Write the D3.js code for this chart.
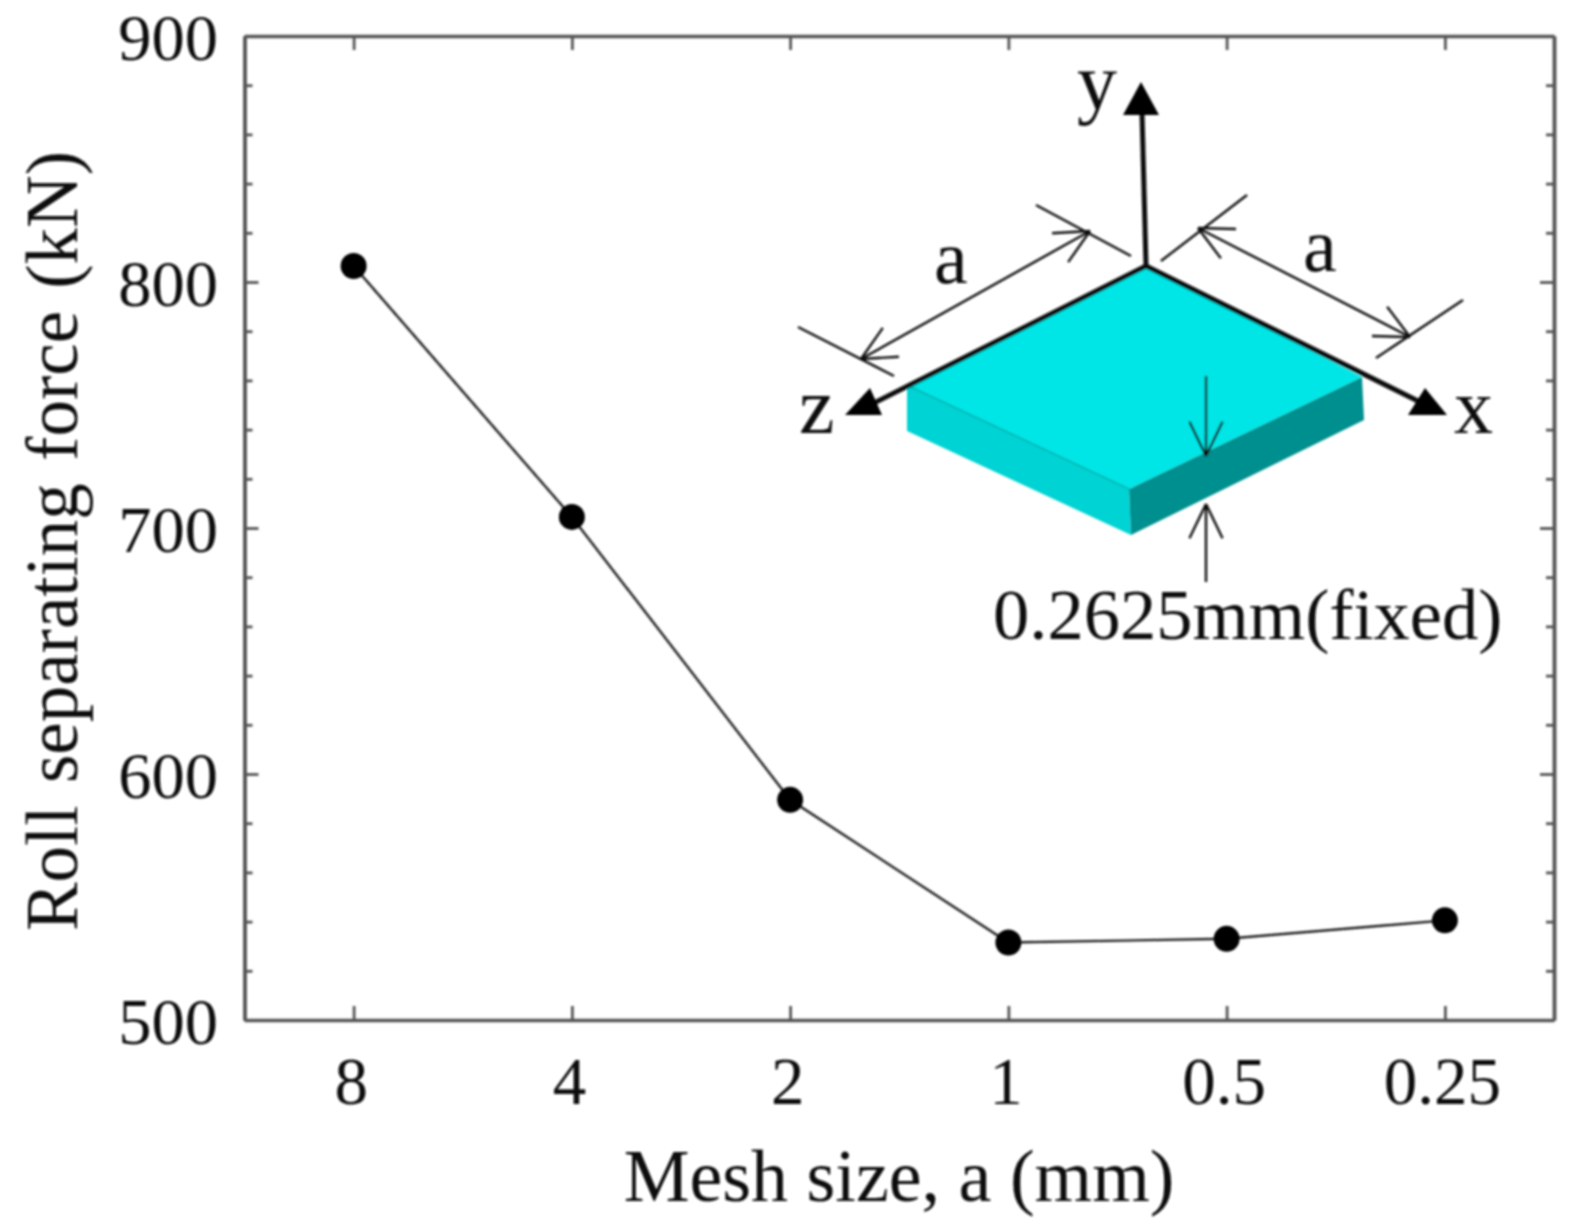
<!DOCTYPE html>
<html>
<head>
<meta charset="utf-8">
<script src="https://cdn.jsdelivr.net/npm/d3@7"></script>
<style>
  html, body { margin: 0; background: #fff; }
  text { font-family: "Liberation Serif", serif; fill: #111; }
</style>
</head>
<body>
<div id="chart"></div>
<script>
// Data
const meshSizes = ['8', '4', '2', '1', '0.5', '0.25']
const rollForce = [806.5, 704.5, 589.5, 531.5, 533, 540.5]
const majorTicks = [500, 600, 700, 800, 900]
const minorTicks = [520, 540, 560, 580, 620, 640, 660, 680, 720, 740, 760, 780, 820, 840, 860, 880]

function draw() {
  // Dimensions
  const dimensions = { width: 1571, height: 1230, left: 244.5, right: 1554, top: 36, bottom: 1020 }

  const svg = d3.select('#chart')
    .append('svg')
    .attr('width', dimensions.width)
    .attr('height', dimensions.height)
    .style('display', 'block')

  // the source is a soft, resampled scan
  svg.append('filter').attr('id', 'soft')
    .append('feGaussianBlur').attr('stdDeviation', 0.8)

  const root = svg.append('g').attr('filter', 'url(#soft)')

  // Scales
  const xScale = d3.scalePoint()
    .domain(meshSizes)
    .range([dimensions.left, dimensions.right])
    .padding(0.5)

  const yScale = d3.scaleLinear()
    .domain([500, 900])
    .range([dimensions.bottom, dimensions.top])

  // Axes
  const axisColor = '#555'
  const styleAxis = g => {
    g.select('.domain').attr('stroke', axisColor).attr('stroke-width', 3.5)
    g.selectAll('.tick line').attr('stroke', axisColor).attr('stroke-width', 2.8)
  }
  const noLabels = axis => axis.tickFormat('').tickSizeOuter(0)

  root.append('g')
    .attr('transform', `translate(0, ${dimensions.bottom})`)
    .call(noLabels(d3.axisTop(xScale).tickSize(14)))
    .call(styleAxis)

  root.append('g')
    .attr('transform', `translate(0, ${dimensions.top})`)
    .call(noLabels(d3.axisBottom(xScale).tickSize(14)))
    .call(styleAxis)

  const yAxes = [
    { x: dimensions.left, make: d3.axisRight },
    { x: dimensions.right, make: d3.axisLeft },
  ]
  yAxes.forEach(side => {
    const at = root.append('g').attr('transform', `translate(${side.x}, 0)`)
    at.append('g')
      .call(noLabels(side.make(yScale).tickValues(majorTicks).tickSize(14)))
      .call(styleAxis)
    at.append('g')
      .call(noLabels(side.make(yScale).tickValues(minorTicks).tickSize(8)))
      .call(styleAxis)
  })

  // Tick labels
  root.append('g')
    .selectAll('text')
    .data(majorTicks)
    .join('text')
    .attr('x', 218)
    .attr('y', d => yScale(d) + 24)
    .attr('text-anchor', 'end')
    .attr('font-size', 66.5)
    .text(d => d)

  root.append('g')
    .selectAll('text')
    .data(meshSizes)
    .join('text')
    .attr('x', d => xScale(d) - 2.5)
    .attr('y', 1104)
    .attr('text-anchor', 'middle')
    .attr('font-size', 67)
    .text(d => d)

  // Axis titles
  root.append('text')
    .attr('x', 899)
    .attr('y', 1201)
    .attr('text-anchor', 'middle')
    .attr('font-size', 74)
    .text('Mesh size, a (mm)')

  root.append('text')
    .attr('transform', 'translate(77, 541) rotate(-90)')
    .attr('text-anchor', 'middle')
    .attr('font-size', 73)
    .attr('word-spacing', 4)
    .text('Roll separating force (kN)')

  // Line and points
  const line = d3.line()
    .x((d, i) => xScale(meshSizes[i]))
    .y(d => yScale(d))

  root.append('path')
    .attr('d', line(rollForce))
    .attr('fill', 'none')
    .attr('stroke', '#222')
    .attr('stroke-width', 2.4)

  root.append('g')
    .selectAll('circle')
    .data(rollForce)
    .join('circle')
    .attr('cx', (d, i) => xScale(meshSizes[i]))
    .attr('cy', d => yScale(d))
    .attr('r', 13)
    .attr('fill', '#000')

  // Inset schematic of the mesh element
  const inset = root.append('g')
  const poly = (pts, fill) => inset.append('polygon').attr('points', pts.join(' ')).attr('fill', fill)
  const seg = (x1, y1, x2, y2, width) => inset.append('line')
    .attr('x1', x1).attr('y1', y1).attr('x2', x2).attr('y2', y2)
    .attr('stroke', '#111').attr('stroke-width', width)

  poly([[907, 385], [1129, 489], [1131, 535], [907, 431]], '#00d3d3')
  poly([[1129, 489], [1362, 377], [1364, 420], [1131, 535]], '#008f8f')
  poly([[1146, 266], [1362, 377], [1129, 489], [907, 385]], '#00e5e5')
  seg(907, 385, 1129, 489, 1.2).attr('stroke', '#00a0a0')

  // axes of the element
  seg(1146, 266, 1142, 112, 5)
  seg(1146, 266, 872, 404, 5)
  seg(1146, 266, 1424, 404, 5)
  poly([[1141, 82], [1123, 115], [1159, 115]], '#000')
  poly([[870, 388], [845, 415], [882, 415]], '#000')
  poly([[1425, 388], [1408, 415], [1447, 415]], '#000')

  // dimension lines with open arrow heads
  const head = (fromX, fromY, x, y) => {
    const angle = Math.atan2(y - fromY, x - fromX)
    ;[angle + 0.45, angle - 0.45].forEach(a => {
      seg(x, y, x - 38 * Math.cos(a), y - 38 * Math.sin(a), 2.4)
    })
  }
  const dimension = (x1, y1, x2, y2) => {
    seg(x1, y1, x2, y2, 2.4)
    head(x1, y1, x2, y2)
    head(x2, y2, x1, y1)
  }
  const pointer = (x1, y1, x2, y2) => {
    seg(x1, y1, x2, y2, 2.4)
    head(x1, y1, x2, y2)
  }
  dimension(861, 359, 1090, 231)
  dimension(1198, 228, 1410, 337)
  seg(798, 327, 894, 376, 2.4)
  seg(1036, 205, 1131, 256, 2.4)
  seg(1161, 261, 1247, 195, 2.4)
  seg(1376, 358, 1463, 300, 2.4)
  pointer(1206, 376, 1206, 456)
  pointer(1206, 582, 1206, 504)

  // inset labels
  const labels = [
    { text: 'y', x: 1077, y: 109, size: 80 },
    { text: 'z', x: 799, y: 433, size: 80 },
    { text: 'x', x: 1454, y: 433, size: 78 },
    { text: 'a', x: 934, y: 283, size: 76 },
    { text: 'a', x: 1303, y: 271, size: 76 },
    { text: '0.2625mm(fixed)', x: 993, y: 639, size: 72.5 },
  ]
  root.append('g')
    .selectAll('text')
    .data(labels)
    .join('text')
    .attr('x', d => d.x)
    .attr('y', d => d.y)
    .attr('font-size', d => d.size)
    .text(d => d.text)
}

draw()
</script>
</body>
</html>
